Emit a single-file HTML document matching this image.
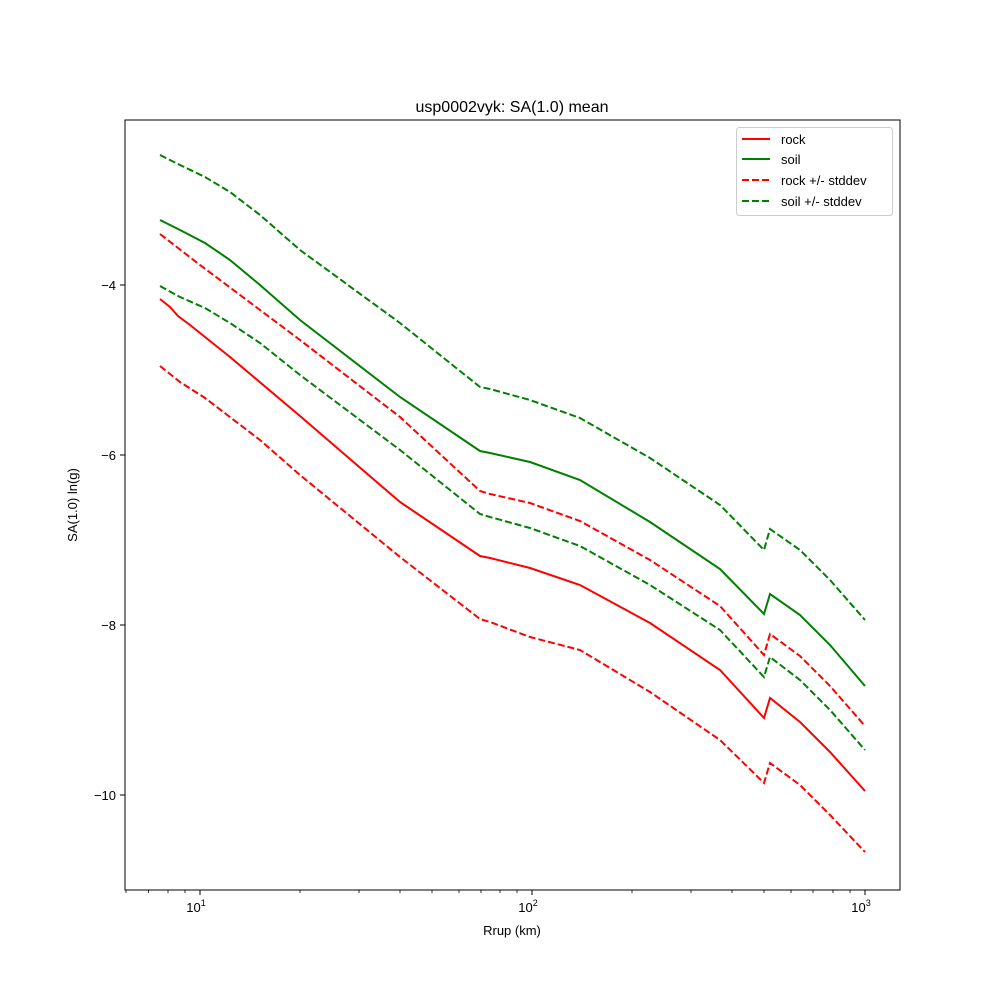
<!DOCTYPE html>
<html><head><meta charset="utf-8"><style>
body{margin:0;background:#fff}
svg{display:block;font-family:"Liberation Sans","DejaVu Sans",sans-serif}
</style></head><body>
<svg width="1000" height="1000" viewBox="0 0 1000 1000" xmlns="http://www.w3.org/2000/svg">
<rect width="1000" height="1000" fill="#fff"/>
<text x="512" y="112" font-size="16" text-anchor="middle">usp0002vyk: SA(1.0) mean</text>
<g fill="none" stroke-width="2">
<polyline stroke="#008000" stroke-dasharray="7,3" points="160,155 180,165 205,177 230,192 260,215 300,250 400,323 480,387 490,389 530,400 580,418 650,458 720,505 764,550 770,529 800,550 830,580 865,620"/>
<polyline stroke="#008000" points="160,220 180,230 205,243 230,260 260,285 300,320 400,397 480,451 490,453 530,462 580,480 650,522 720,569 764,614 770,594 800,615 830,645 865,686"/>
<polyline stroke="#008000" stroke-dasharray="7,3" points="160,286 180,297 205,308 230,323 260,343 300,375 400,450 480,514 490,517 530,528 580,546 650,585 720,630 764,677 770,657 800,680 830,710 865,750"/>
<polyline stroke="#ff0000" stroke-dasharray="7,3" points="160,234 200,265 260,310 300,340 400,417 480,491 490,494 530,503 580,521 650,560 720,606 764,655 770,634 800,656 830,686 865,726"/>
<polyline stroke="#ff0000" points="160,299 170,307 178,316 190,325 230,357 300,416 400,502 480,556 490,558 530,568 580,585 650,623 720,670 764,718 770,698 800,722 830,752 865,791"/>
<polyline stroke="#ff0000" stroke-dasharray="7,3" points="160,366 180,382 205,398 260,440 300,475 400,557 480,619 490,622 530,637 580,650 650,692 720,740 764,783 770,763 800,785 830,815 865,852"/>
</g>
<rect x="125" y="120" width="775" height="770" fill="none" stroke="#000" stroke-width="1"/>
<g stroke="#000" stroke-width="1">
<line x1="125" y1="285" x2="120" y2="285"/><line x1="125" y1="455" x2="120" y2="455"/>
<line x1="125" y1="625" x2="120" y2="625"/><line x1="125" y1="795" x2="120" y2="795"/>
<line x1="200" y1="890" x2="200" y2="895"/><line x1="532" y1="890" x2="532" y2="895"/><line x1="865" y1="890" x2="865" y2="895"/>
</g>
<g stroke="#000" stroke-width="0.8">
<line x1="126" y1="890" x2="126" y2="893"/><line x1="148.5" y1="890" x2="148.5" y2="893"/><line x1="168" y1="890" x2="168" y2="893"/><line x1="185" y1="890" x2="185" y2="893"/>
<line x1="300" y1="890" x2="300" y2="893"/><line x1="359" y1="890" x2="359" y2="893"/><line x1="400" y1="890" x2="400" y2="893"/><line x1="432" y1="890" x2="432" y2="893"/><line x1="459" y1="890" x2="459" y2="893"/><line x1="481" y1="890" x2="481" y2="893"/><line x1="500" y1="890" x2="500" y2="893"/><line x1="517" y1="890" x2="517" y2="893"/>
<line x1="632" y1="890" x2="632" y2="893"/><line x1="691" y1="890" x2="691" y2="893"/><line x1="732" y1="890" x2="732" y2="893"/><line x1="764" y1="890" x2="764" y2="893"/><line x1="791" y1="890" x2="791" y2="893"/><line x1="813" y1="890" x2="813" y2="893"/><line x1="833" y1="890" x2="833" y2="893"/><line x1="850" y1="890" x2="850" y2="893"/>
</g>
<g font-size="13" text-anchor="end">
<text x="116" y="290">−4</text><text x="116" y="460">−6</text><text x="116" y="630">−8</text><text x="116" y="800">−10</text>
</g>
<g font-size="13" text-anchor="middle">
<text x="196" y="912">10<tspan font-size="9" dy="-6">1</tspan></text>
<text x="528" y="912">10<tspan font-size="9" dy="-6">2</tspan></text>
<text x="861" y="912">10<tspan font-size="9" dy="-6">3</tspan></text>
<text x="512" y="935">Rrup (km)</text>
</g>
<text transform="translate(77,505) rotate(-90)" font-size="13" text-anchor="middle">SA(1.0) ln(g)</text>
<rect x="736.5" y="127.5" width="156" height="88" rx="3" fill="#fff" stroke="#ccc"/>
<g stroke-width="2">
<line x1="742" y1="139" x2="770" y2="139" stroke="#ff0000"/>
<line x1="742" y1="159" x2="770" y2="159" stroke="#008000"/>
<line x1="742" y1="180" x2="770" y2="180" stroke="#ff0000" stroke-dasharray="7,3"/>
<line x1="742" y1="201" x2="770" y2="201" stroke="#008000" stroke-dasharray="7,3"/>
</g>
<g font-size="13">
<text x="781" y="144">rock</text><text x="781" y="164">soil</text>
<text x="781" y="185">rock +/- stddev</text><text x="781" y="206">soil +/- stddev</text>
</g>
</svg>
</body></html>
